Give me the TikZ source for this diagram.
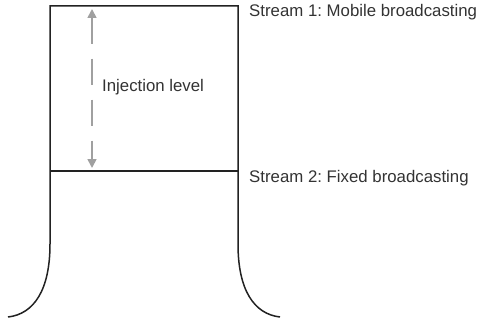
\documentclass[tikz,border=0pt]{standalone}
\usepackage{fontspec}
\setmainfont{Liberation Sans}
\usetikzlibrary{arrows.meta}
\definecolor{linec}{HTML}{222222}
\definecolor{textc}{HTML}{333333}
\definecolor{arrowc}{HTML}{A0A0A0}
\frenchspacing
\begin{document}
\begin{tikzpicture}[x=1pt,y=-1pt,
  wall/.style={draw=linec,line width=1.5pt},
  lbl/.style={inner sep=0pt,anchor=base west,text=textc,font=\fontsize{16.8}{20}\selectfont},
  levelarrow/.style={draw=arrowc,line width=1.7pt,dash pattern=on 26pt off 15pt,
    {Triangle[length=9pt,width=9pt]}-{Triangle[length=9pt,width=9pt]}}]
\useasboundingbox (0,0) rectangle (486,323);
% corners
\coordinate (tl) at (50,6);
\coordinate (tr) at (238,6);
\coordinate (ml) at (50,171);
\coordinate (mr) at (238,171);
\coordinate (bl) at (50,244);
\coordinate (br) at (238,244);
\coordinate (el) at (8,317);
\coordinate (er) at (280,317);
\coordinate (atop) at (92,9);
\coordinate (abot) at (92,168);
% structure
\draw[wall] (el) .. controls (34,314) and (50,290) .. (bl) -- (tl) -- (tr) -- (br) .. controls (238,290) and (254,314) .. (er);
\draw[wall] (ml) -- (mr);
% injection arrow
\draw[levelarrow] (atop) -- (abot);
% labels
\node[lbl] (inj) at (102,92) {Injection level};
\node[lbl] (s1) at (249,17) {Stream 1: Mobile broadcasting};
\node[lbl] (s2) at (249,182) {Stream 2: Fixed broadcasting};
\end{tikzpicture}
\end{document}
